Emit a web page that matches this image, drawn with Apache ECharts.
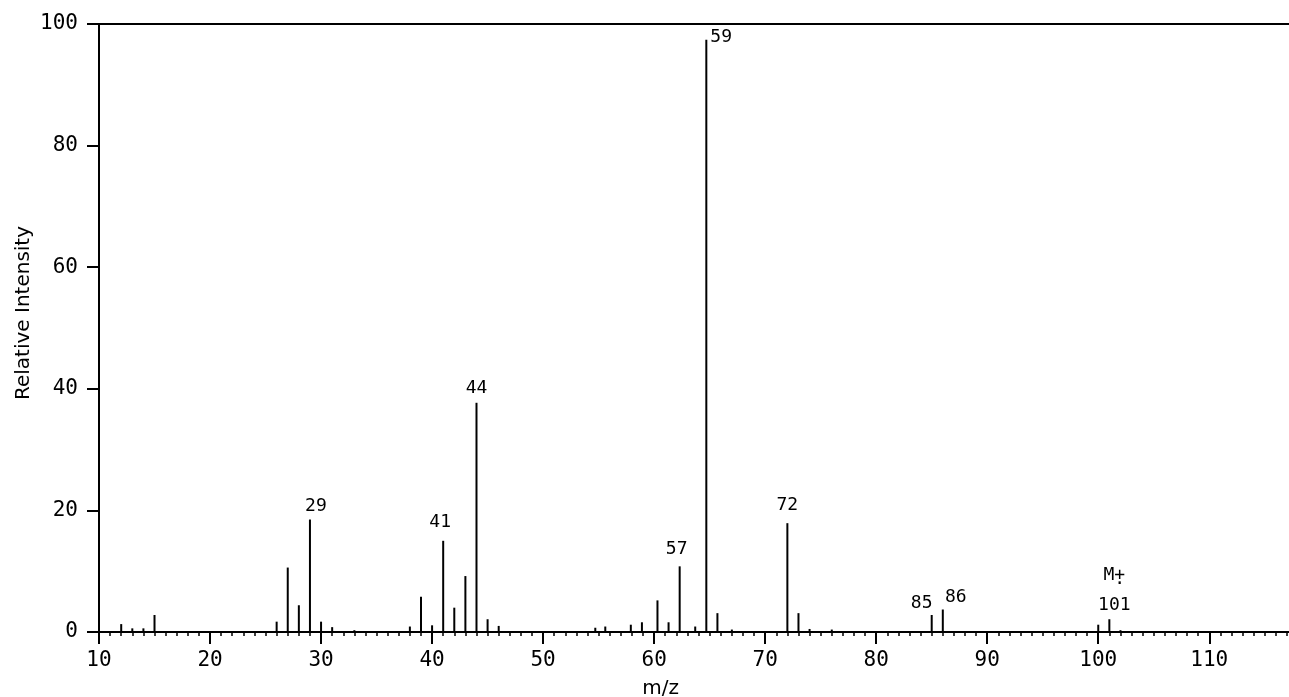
<!DOCTYPE html>
<html>
<head>
<meta charset="utf-8">
<script src="https://cdn.jsdelivr.net/npm/echarts@6/dist/echarts.min.js"></script>
<style>
  html, body { margin: 0; padding: 0; background: #fff; }
  #spectrum { width: 1289px; height: 697px; }
</style>
</head>
<body>
<div id="spectrum"></div>
<script>
// peak positions (m/z as they sit on the axis) and relative intensities
var mz = [12, 13, 14, 15, 26, 27, 28, 29, 30, 31, 33, 38, 39, 40, 41, 42, 43, 44, 45, 46,
  54.7, 55.6, 57.9, 58.9, 60.3, 61.3, 62.3, 63.7, 64.7, 65.7, 67.0,
  72, 73, 74, 76, 85, 86, 100, 101, 102]
var intensity = [1.3, 0.6, 0.6, 2.8, 1.7, 10.6, 4.4, 18.5, 1.7, 0.8, 0.3, 0.9, 5.8, 1.1, 15.0, 4.0, 9.2, 37.7, 2.1, 1.0,
  0.7, 0.9, 1.2, 1.6, 5.2, 1.6, 10.8, 0.9, 97.4, 3.1, 0.4,
  17.9, 3.1, 0.5, 0.4, 2.8, 3.7, 1.2, 2.1, 0.3]

// labelled peaks
var labelMz = [29, 41, 44, 62.3, 64.7, 72, 85, 86, 101]
var labelText = ['29', '41', '44', '57', '59', '72', '85', '86', '101']

var xTicks = [10, 20, 30, 40, 50, 60, 70, 80, 90, 100, 110]
var yTicks = [0, 20, 40, 60, 80, 100]

// label placement tweaks [dx, dy]
var labelShift = {
  '29': [6, 0], '41': [-3, -5], '44': [0, -1], '57': [-3, -4],
  '72': [0, -5], '85': [-10, 1], '86': [13, 1]
}

var monoFont = 'DejaVu Sans Mono'

var chart = echarts.init(document.getElementById('spectrum'))

var data = mz.map(function (x, i) {
  var item = { value: [x, intensity[i]] }
  var k = labelMz.indexOf(x)
  if (k < 0) return item
  var txt = labelText[k]
  if (txt === '59') {
    item.label = {
      show: true, formatter: txt,
      position: [5, -11], align: 'left', verticalAlign: 'top'
    }
  } else if (txt === '101') {
    // molecular ion: M, + with radical dot under it, then the mass
    item.label = {
      show: true,
      formatter: '{a|M+}\n{b| .}\n{c|' + txt + '}',
      position: [6, -48], align: 'center', verticalAlign: 'top',
      rich: {
        a: { fontFamily: monoFont, fontSize: 18, lineHeight: 8, color: '#000' },
        b: { fontFamily: monoFont, fontSize: 18, lineHeight: 1, color: '#000' },
        c: { fontFamily: monoFont, fontSize: 18, lineHeight: 51, color: '#000' }
      }
    }
  } else {
    item.label = {
      show: true, formatter: txt,
      position: 'top', distance: 4,
      offset: labelShift[txt] || [0, 0]
    }
  }
  return item
})

var option = {
  backgroundColor: '#fff',
  animation: false,
  grid: { left: 99, top: 24, bottom: 65, right: -31.3, outerBoundsMode: 'none' },
  xAxis: [
    {
      type: 'value',
      min: 10,
      max: 120,
      interval: 10,
      position: 'bottom',
      name: 'm/z',
      nameLocation: 'middle',
      nameGap: 47,
      nameMoveOverlap: false,
      nameTextStyle: { fontFamily: 'DejaVu Sans', fontSize: 20, color: '#000', padding: [0, 98, 0, 0] },
      axisLine: { show: true, onZero: false, lineStyle: { color: '#000', width: 2 } },
      axisTick: { show: true, length: 12, lineStyle: { color: '#000', width: 2 } },
      minorTick: { show: true, splitNumber: 10, length: 4, lineStyle: { color: '#000', width: 1.5 } },
      axisLabel: {
        fontFamily: monoFont, fontSize: 21, color: '#000', margin: 18,
        formatter: function (v) { return xTicks.indexOf(v) >= 0 ? String(v) : '' }
      },
      splitLine: { show: false }
    },
    {
      type: 'value',
      min: 10,
      max: 120,
      position: 'top',
      axisLine: { show: true, onZero: false, lineStyle: { color: '#000', width: 2 } },
      axisTick: { show: false },
      axisLabel: { show: false },
      splitLine: { show: false }
    }
  ],
  yAxis: {
    type: 'value',
    min: 0,
    max: 100,
    interval: 20,
    name: 'Relative Intensity',
    nameLocation: 'middle',
    nameGap: 65,
    nameMoveOverlap: false,
    nameTextStyle: { fontFamily: 'DejaVu Sans', fontSize: 20, color: '#000', padding: [0, 0, 0, 30] },
    axisLine: { show: true, lineStyle: { color: '#000', width: 2 } },
    axisTick: { show: true, length: 12, lineStyle: { color: '#000', width: 2 } },
    axisLabel: {
      fontFamily: monoFont, fontSize: 21, color: '#000', margin: 21,
      formatter: function (v) { return yTicks.indexOf(v) >= 0 ? String(v) : '' }
    },
    splitLine: { show: false }
  },
  series: [
    {
      type: 'bar',
      xAxisIndex: 0,
      barWidth: 2,
      itemStyle: { color: '#000' },
      label: { fontFamily: monoFont, fontSize: 18, color: '#000' },
      data: data
    }
  ]
}

chart.setOption(option)
</script>
</body>
</html>
